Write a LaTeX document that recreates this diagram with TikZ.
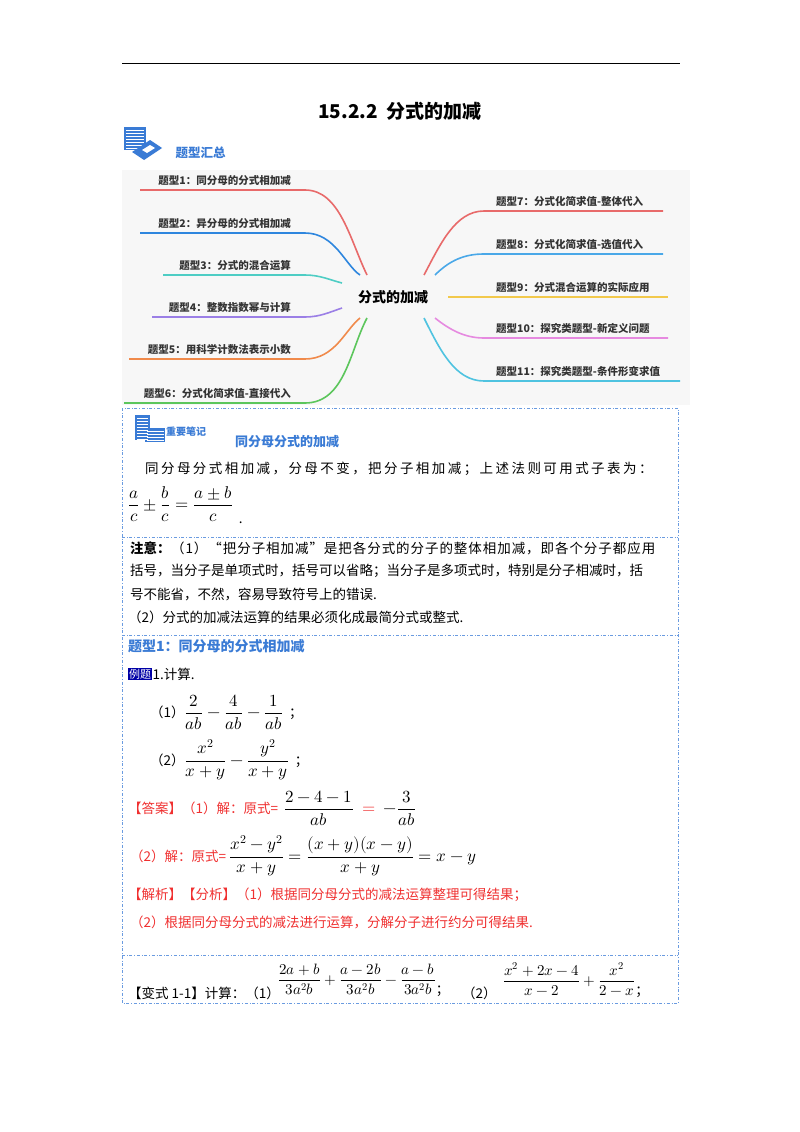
\documentclass[tikz,border=0pt]{standalone}
\usepackage{fontspec}
\usepackage{amsmath}
\usepackage{unicode-math}
\setmathfont{Latin Modern Math}
\setmainfont{Noto Sans CJK SC}
\newfontfamily\spreadfont[LetterSpace=18]{Noto Sans CJK SC}
\newfontfamily\spreadb[LetterSpace=7]{Noto Sans CJK SC}
\usetikzlibrary{calc}
\definecolor{bl}{HTML}{3A7BD5}
\definecolor{frame}{HTML}{6A9BE0}
\definecolor{ans}{HTML}{F03030}
\definecolor{c1}{HTML}{E86A6A}
\definecolor{c2}{HTML}{2E86DE}
\definecolor{c3}{HTML}{4ECDC4}
\definecolor{c4}{HTML}{9B7FE6}
\definecolor{c5}{HTML}{F08A4B}
\definecolor{c6}{HTML}{5CC65C}
\definecolor{c8}{HTML}{4AA8E8}
\definecolor{c9}{HTML}{F2C94C}
\definecolor{c10}{HTML}{E68AE0}
\definecolor{c11}{HTML}{4FC3E0}
\tikzset{
  lab/.style={font=\fontsize{10.5}{12}\selectfont\bfseries, text=black!80, inner sep=1pt},
  br/.style={line width=1.6pt},
  txt/.style={font=\fontsize{13.5}{16}\selectfont, anchor=west, inner sep=0pt},
  frm/.style={draw=frame, dash dot, line width=0.9pt},
  mth/.style={font=\fontsize{13.5}{17}\selectfont, anchor=west, inner sep=0pt}
}
\newcommand{\mymath}[1]{{\fontsize{17}{20}\selectfont$#1$}}
\newcommand{\mymaths}[1]{{\fontsize{15}{18}\selectfont$#1$}}
\begin{document}
\begin{tikzpicture}[x=1pt,y=-1pt]
\useasboundingbox (0,0) rectangle (800,1132);
\fill[white] (0,0) rectangle (800,1132);
\draw[line width=0.8pt] (122,63) -- (680,63);
\node[font=\fontsize{19}{22}\selectfont\bfseries] (title) at (400,111) {15.2.2\ \ 分式的加减};
% icon
\fill[bl] (124,127) rectangle (146,150);
\foreach \yy in {130,133,...,148} \draw[white,line width=0.6pt] (126,\yy) -- (144,\yy);
\fill[bl] (132,152) -- (150,140) -- (162,148) -- (144,160) -- cycle;
\fill[white] (142,150) -- (150,145) -- (155,148) -- (147,153) -- cycle;
\node[font=\fontsize{12.5}{14}\selectfont\bfseries, text=bl, anchor=west] (hz) at (172,153) {题型汇总};
% mindmap
\fill[black!3] (122,170) rectangle (690,405);
\node[font=\fontsize{14}{16}\selectfont\bfseries] (ctr) at (393,297) {分式的加减};
\coordinate (l1) at (140,190); \coordinate (l2) at (140,233); \coordinate (l3) at (163,275);
\coordinate (l4) at (152,317); \coordinate (l5) at (129,359); \coordinate (l6) at (124,403);
\draw[br,c1] (l1) -- (305,190) .. controls (340,190) and (350,240) .. (367,275);
\draw[br,c2] (l2) -- (305,233) .. controls (335,233) and (345,265) .. (360,275);
\draw[br,c3] (l3) -- (305,275) .. controls (320,275) and (330,280) .. (342,283);
\draw[br,c4] (l4) -- (305,317) .. controls (320,317) and (330,312) .. (342,308);
\draw[br,c5] (l5) -- (305,359) .. controls (335,359) and (345,330) .. (360,318);
\draw[br,c6] (l6) -- (305,403) .. controls (345,403) and (350,350) .. (367,318);
\node[lab,anchor=south east] (t1) at (292,187) {题型1：同分母的分式相加减};
\node[lab,anchor=south east] (t2) at (292,230) {题型2：异分母的分式相加减};
\node[lab,anchor=south east] (t3) at (292,272) {题型3：分式的混合运算};
\node[lab,anchor=south east] (t4) at (292,314) {题型4：整数指数幂与计算};
\node[lab,anchor=south east] (t5) at (292,356) {题型5：用科学计数法表示小数};
\node[lab,anchor=south east] (t6) at (292,400) {题型6：分式化简求值-直接代入};
\coordinate (r7) at (663,211); \coordinate (r8) at (663,254); \coordinate (r9) at (668,297);
\coordinate (r10) at (668,338); \coordinate (r11) at (680,381);
\draw[br,c1] (424,275) .. controls (440,245) and (455,211) .. (484,211) -- (r7);
\draw[br,c8] (435,275) .. controls (450,260) and (465,254) .. (484,254) -- (r8);
\draw[br,c9] (448,297) -- (r9);
\draw[br,c10] (435,318) .. controls (450,330) and (465,338) .. (484,338) -- (r10);
\draw[br,c11] (424,318) .. controls (440,350) and (455,381) .. (484,381) -- (r11);
\node[lab,anchor=south west] (t7) at (495,208) {题型7：分式化简求值-整体代入};
\node[lab,anchor=south west] (t8) at (495,251) {题型8：分式化简求值-选值代入};
\node[lab,anchor=south west] (t9) at (495,294) {题型9：分式混合运算的实际应用};
\node[lab,anchor=south west] (t10) at (495,335) {题型10：探究类题型-新定义问题};
\node[lab,anchor=south west] (t11) at (495,378) {题型11：探究类题型-条件形变求值};
% frames
\draw[frm] (122,408) rectangle (678,1003);
\draw[frm] (122,537) -- (678,537);
\draw[frm] (122,635) -- (678,635);
\draw[frm] (122,955) -- (678,955);
% note icon
\fill[bl] (135,415) rectangle (150,440);
\fill[bl] (145,428) rectangle (165,442);
\foreach \yy in {418,421,...,439} \draw[white,line width=0.5pt] (137,\yy) -- (148,\yy);
\foreach \yy in {431,434,437,440} \draw[white,line width=0.5pt] (147,\yy) -- (164,\yy);
\node[font=\fontsize{10}{11}\selectfont\bfseries, text=bl, anchor=west, inner sep=0pt] (zy) at (166,432) {重要笔记};
\node[font=\fontsize{13}{15}\selectfont\bfseries, text=bl, anchor=west, inner sep=0pt] (h1) at (235,442) {同分母分式的加减};
\node[txt] (b1) at (145,469) {\spreadfont 同分母分式相加减，分母不变，把分子相加减；上述法则可用式子表为：};
\node[mth] (f1) at (128,505) {\mymath{\dfrac{a}{c}\pm\dfrac{b}{c}=\dfrac{a\pm b}{c}}\ \ \raisebox{-14pt}{.}};
\node[txt] (n1a) at (130,548) {\textbf{注意：}};
\node[txt] (n1) at (n1a.east) {\spreadb（1）“把分子相加减”是把各分式的分子的整体相加减，即各个分子都应用};
\node[txt] (n2) at (130,571) {括号，当分子是单项式时，括号可以省略；当分子是多项式时，特别是分子相减时，括};
\node[txt] (n3) at (130,594) {号不能省，不然，容易导致符号上的错误.};
\node[txt] (n4) at (128,617) {（2）分式的加减法运算的结果必须化成最简分式或整式.};
% example
\node[font=\fontsize{14}{17}\selectfont\bfseries, text=bl, anchor=west, inner sep=0pt] (h2) at (128,646) {题型1：同分母的分式相加减};
\node[fill=blue!65!black, text=white, font=\fontsize{11}{12}\selectfont, anchor=west, inner sep=1pt] (lt) at (128,674) {例题};
\node[txt] (q) at (lt.east) {1.计算.};
\node[mth] (q1) at (150,712) {（1）\mymath{\dfrac{2}{ab}-\dfrac{4}{ab}-\dfrac{1}{ab}}\ \ ；};
\node[mth] (q2) at (150,760) {（2）\mymath{\dfrac{x^2}{x+y}-\dfrac{y^2}{x+y}}\ \ ；};
\node[mth, text=ans] (a1) at (128,808) {【答案】（1）解：原式=\ \ \color{black}\mymath{\dfrac{2-4-1}{ab}\ \color{ans}=\color{black}\ -\dfrac{3}{ab}}};
\node[mth, text=ans] (a2) at (130,856) {（2）解：原式=\ \color{black}\mymath{\dfrac{x^2-y^2}{x+y}=\dfrac{(x+y)(x-y)}{x+y}=x-y}};
\node[txt, text=ans] (j1) at (128,895) {【解析】【分析】（1）根据同分母分式的减法运算整理可得结果；};
\node[txt, text=ans] (j2) at (130,922) {（2）根据同分母分式的减法进行运算，分解分子进行约分可得结果.};
\node[txt] (v0) at (128,993) {【变式 1-1】计算：（1）};
\node[mth] (v1) at (278,980) {\mymaths{\dfrac{2a+b}{3a^2b}+\dfrac{a-2b}{3a^2b}-\dfrac{a-b}{3a^2b}}\raisebox{-10pt}{；}};
\node[txt] (v2) at (462,993) {（2）};
\node[mth] (v3) at (503,980) {\mymaths{\dfrac{x^2+2x-4}{x-2}+\dfrac{x^2}{2-x}}\raisebox{-10pt}{；}};
\end{tikzpicture}
\end{document}
